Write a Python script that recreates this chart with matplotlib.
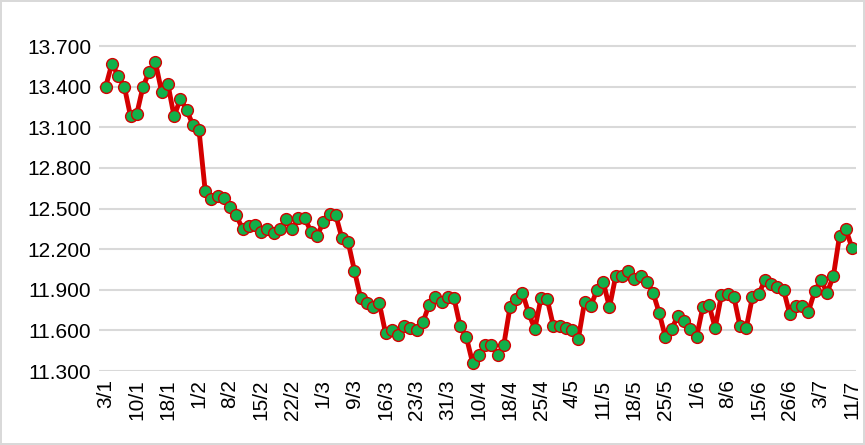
import numpy as np
import matplotlib
matplotlib.use("Agg")
import matplotlib.pyplot as plt

plt.rcParams['font.family'] = ['Liberation Sans', 'DejaVu Sans']

values = [13.40, 13.57, 13.48, 13.40, 13.18, 13.20, 13.40, 13.51, 13.58, 13.36,
          13.42, 13.18, 13.31, 13.23, 13.12, 13.08, 12.63, 12.57, 12.59, 12.58,
          12.51, 12.45, 12.35, 12.37, 12.38, 12.33, 12.35, 12.32, 12.35, 12.42,
          12.35, 12.43, 12.43, 12.33, 12.30, 12.40, 12.46, 12.45, 12.28, 12.25,
          12.04, 11.84, 11.80, 11.77, 11.80, 11.58, 11.60, 11.57, 11.63, 11.62,
          11.60, 11.66, 11.79, 11.85, 11.81, 11.85, 11.84, 11.63, 11.55, 11.36,
          11.42, 11.49, 11.49, 11.42, 11.49, 11.77, 11.83, 11.88, 11.73, 11.61,
          11.84, 11.83, 11.63, 11.63, 11.62, 11.60, 11.54, 11.81, 11.78, 11.90,
          11.96, 11.77, 12.00, 12.00, 12.04, 11.98, 12.00, 11.96, 11.88, 11.73,
          11.55, 11.61, 11.71, 11.67, 11.61, 11.55, 11.77, 11.79, 11.62, 11.86,
          11.87, 11.85, 11.63, 11.62, 11.85, 11.87, 11.97, 11.94, 11.92, 11.90,
          11.72, 11.78, 11.78, 11.74, 11.89, 11.97, 11.88, 12.00, 12.30, 12.35,
          12.21]
values = [v * 1000 for v in values]

tick_labels = ["3/1", "10/1", "18/1", "1/2", "8/2", "15/2", "22/2", "1/3", "9/3",
               "16/3", "23/3", "31/3", "10/4", "18/4", "25/4", "4/5", "11/5",
               "18/5", "25/5", "1/6", "8/6", "15/6", "26/6", "3/7", "11/7"]
y_ticks = [11300, 11600, 11900, 12200, 12500, 12800, 13100, 13400, 13700]

fig = plt.figure(figsize=(8.65, 4.45), dpi=100)
fig.patch.set_edgecolor('#d9d9d9')
fig.patch.set_linewidth(1.5)
ax = fig.add_axes([0.115, 0.166, 0.875, 0.761])

x = np.arange(len(values))
ax.plot(x, values, color='#d40000', lw=3.5, marker='o', markersize=8.5,
        markerfacecolor='#12b04a', markeredgecolor='#d40000', markeredgewidth=1)

ax.set_ylim(11300, 13800)
ax.set_yticks(y_ticks)
ax.set_yticklabels([f"{v:,}".replace(",", ".") for v in y_ticks], fontsize=15)
ax.set_xlim(-1.0, len(values) - 0.3)
ax.set_xticks(x[::5])
ax.set_xticklabels(tick_labels, rotation=90, fontsize=15)
ax.grid(axis='y', color='#d9d9d9', lw=1.5)
ax.set_axisbelow(True)
for s in ax.spines.values():
    s.set_visible(False)
ax.tick_params(length=0, pad=6)

fig.savefig("out.png", dpi=100, edgecolor=fig.get_edgecolor())
